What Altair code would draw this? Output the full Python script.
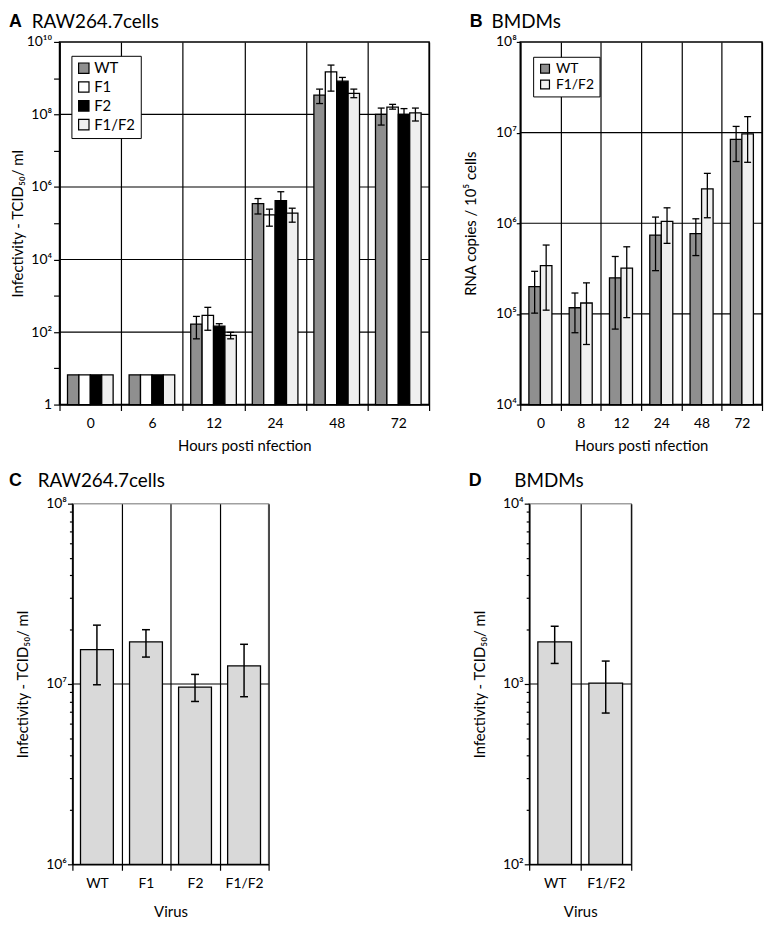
import altair as alt
import pandas as pd

FONT = "Lato"
LETTER_FONT = "Liberation Sans"
SUP = str.maketrans("0123456789", "⁰¹²³⁴⁵⁶⁷⁸⁹")

# ---------------- Panel A : RAW264.7 cells, infectivity time course ----------------
a_hours = ["0", "6", "12", "24", "48", "72"]
a_series = ["WT", "F1", "F2", "F1/F2"]
a_fill = ["#8f8f8f", "#ffffff", "#000000", "#efefef"]
a_wt = [6.6, 6.6, 166, 3.5e5, 3.4e8, 1.0e8]
a_wt_lo = [None, None, 65, 1.8e5, 2.0e8, 5.1e7]
a_wt_hi = [None, None, 270, 4.8e5, 5.0e8, 1.5e8]
a_f1 = [6.6, 6.6, 288, 1.7e5, 1.5e9, 1.6e8]
a_f1_lo = [None, None, 112, 8.3e4, 4.4e8, 1.4e8]
a_f1_hi = [None, None, 480, 2.45e5, 2.3e9, 1.9e8]
a_f2 = [6.6, 6.6, 145, 4.2e5, 8.3e8, 1.0e8]
a_f2_lo = [None, None, 129, 2.4e5, 6.6e8, 7.0e7]
a_f2_hi = [None, None, 170, 7.4e5, 1.05e9, 1.45e8]
a_f1f2 = [6.6, 6.6, 81, 1.9e5, 3.8e8, 1.1e8]
a_f1f2_lo = [None, None, 65, 1.07e5, 2.9e8, 6.6e7]
a_f1f2_hi = [None, None, 98, 2.6e5, 5.0e8, 1.5e8]
a_exponents = list(range(0, 11))
a_grid = [1e2, 1e4, 1e6, 1e8]

# ---------------- Panel B : BMDMs, RNA copies ----------------
b_hours = ["0", "8", "12", "24", "48", "72"]
b_series = ["WT", "F1/F2"]
b_fill = ["#8f8f8f", "#efefef"]
b_wt = [2.0e5, 1.17e5, 2.5e5, 7.4e5, 7.7e5, 8.4e6]
b_wt_lo = [1.02e5, 6.2e4, 6.8e4, 3.0e5, 4.4e5, 4.8e6]
b_wt_hi = [2.95e5, 1.7e5, 4.3e5, 1.17e6, 1.12e6, 1.17e7]
b_f1f2 = [3.4e5, 1.32e5, 3.2e5, 1.05e6, 2.4e6, 9.7e6]
b_f1f2_lo = [1.1e5, 4.6e4, 9.1e4, 6.0e5, 1.15e6, 4.7e6]
b_f1f2_hi = [5.75e5, 2.2e5, 5.5e5, 1.48e6, 3.55e6, 1.5e7]
b_exponents = [4, 5, 6, 7, 8]
b_grid = [1e5, 1e6, 1e7]

# ---------------- Panel C : RAW264.7 cells, by virus ----------------
c_virus = ["WT", "F1", "F2", "F1/F2"]
c_value = [1.55e7, 1.71e7, 9.6e6, 1.26e7]
c_lo = [9.9e6, 1.41e7, 8.0e6, 8.5e6]
c_hi = [2.12e7, 2.0e7, 1.13e7, 1.66e7]
c_exponents = [6, 7, 8]
c_grid = [1e7]

# ---------------- Panel D : BMDMs, by virus ----------------
d_virus = ["WT", "F1/F2"]
d_value = [1710, 1010]
d_lo = [1300, 690]
d_hi = [2090, 1340]
d_exponents = [2, 3, 4]
d_grid = [1e3]


def pow_label(e):
    return "1" if e == 0 else "10" + str(e).translate(SUP)


def label_expr(exps):
    expr = "''"
    for e in exps:
        expr = f"datum.value == {10 ** e} ? '{pow_label(e)}' : " + expr
    return expr


def long_table(cats, series, vals, los, his, base):
    rows = []
    for s, v, lo, hi in zip(series, vals, los, his):
        for c, vv, l, h in zip(cats, v, lo, hi):
            rows.append({"cat": c, "series": s, "value": vv, "lo": l, "hi": h, "base": base})
    return pd.DataFrame(rows)


def title_layers(letter, text, lx, tx, y):
    d = pd.DataFrame({"t": [0]})
    l1 = alt.Chart(d).mark_text(text=letter, font=LETTER_FONT, fontWeight="bold", fontSize=18,
                                align="left", baseline="middle", color="black").encode(
        x=alt.value(lx), y=alt.value(y))
    l2 = alt.Chart(d).mark_text(text=text, font=FONT, fontSize=19, align="left",
                                baseline="middle", color="black").encode(
        x=alt.value(tx), y=alt.value(y))
    return [l1, l2]


def grid_layer(vals, yscale, yaxis):
    return alt.Chart(pd.DataFrame({"g": vals})).mark_rule(color="black", strokeWidth=1.2).encode(
        y=alt.Y("g:Q", scale=yscale, axis=yaxis))


def grouped_panel(df, cats, series, fills, ydom, exps, label_exps, grid, ytitle, pad_outer,
                  legend, ext, tpad, tick, lpad, letter, text, lx, tx, ty, w, h):
    yscale = alt.Scale(type="log", domain=ydom, nice=False)
    yaxis = alt.Axis(title=ytitle, values=[10 ** e for e in exps], labelExpr=label_expr(label_exps),
                     grid=False, tickSize=tick, labelPadding=lpad, minExtent=ext, maxExtent=ext,
                     titlePadding=tpad)
    xscale = alt.Scale(domain=cats, paddingInner=0, paddingOuter=0)
    xaxis = alt.Axis(title="Hours posti nfection", tickBand="extent", grid=True, labelAngle=0,
                     tickSize=6, labelPadding=6, titlePadding=8)
    xoff = alt.XOffset("series:N", scale=alt.Scale(domain=series, paddingOuter=pad_outer))
    X = alt.X("cat:N", scale=xscale, axis=xaxis)
    bars = alt.Chart(df).mark_bar(stroke="black", strokeWidth=1.3, opacity=1).encode(
        x=X, xOffset=xoff,
        y=alt.Y("value:Q", scale=yscale, axis=yaxis), y2="base:Q",
        fill=alt.Fill("series:N", scale=alt.Scale(domain=series, range=fills), legend=legend))
    err = df.dropna(subset=["lo"])
    rule = alt.Chart(err).mark_rule(color="black", strokeWidth=1.3).encode(
        x=X, xOffset=xoff, y=alt.Y("lo:Q", scale=yscale, axis=yaxis), y2="hi:Q")
    cap_lo = alt.Chart(err).mark_tick(color="black", size=7, thickness=1.3, opacity=1).encode(
        x=X, xOffset=xoff, y=alt.Y("lo:Q", scale=yscale, axis=yaxis))
    cap_hi = alt.Chart(err).mark_tick(color="black", size=7, thickness=1.3, opacity=1).encode(
        x=X, xOffset=xoff, y=alt.Y("hi:Q", scale=yscale, axis=yaxis))
    layers = [grid_layer(grid, yscale, yaxis), bars, rule, cap_lo, cap_hi] + \
        title_layers(letter, text, lx, tx, ty)
    return alt.layer(*layers).properties(width=w, height=h)


def virus_panel(cats, vals, los, his, ydom, exps, grid, letter, text, lx, tx, ty, w, h, band):
    lo_e, hi_e = exps[0], exps[-1]
    ticks = []
    for e in range(lo_e, hi_e):
        ticks += [k * 10 ** e for k in range(1, 10)]
    ticks.append(10 ** hi_e)
    major = " || ".join(f"datum.value == {10 ** e}" for e in exps)
    yscale = alt.Scale(type="log", domain=ydom, nice=False)
    yaxis = alt.Axis(title="Infectivity - TCID₅₀/ ml", values=ticks, labelExpr=label_expr(exps),
                     grid=False, tickSize={"condition": {"test": major, "value": 5}, "value": 3},
                     labelPadding=1, minExtent=30, maxExtent=30, titlePadding=12)
    xscale = alt.Scale(domain=cats, paddingInner=0, paddingOuter=0)
    xaxis = alt.Axis(title="Virus", tickBand="extent", grid=True, labelAngle=0,
                     tickSize=6, labelPadding=6, titlePadding=15)
    X = alt.X("cat:N", scale=xscale, axis=xaxis)
    df = pd.DataFrame({"cat": cats, "value": vals, "lo": los, "hi": his, "base": 10 ** lo_e})
    bars = alt.Chart(df).mark_bar(fill="#d9d9d9", stroke="black", strokeWidth=1.3,
                                  width=alt.RelativeBandSize(band)).encode(
        x=X, y=alt.Y("value:Q", scale=yscale, axis=yaxis), y2="base:Q")
    rule = alt.Chart(df).mark_rule(color="black", strokeWidth=1.5).encode(
        x=X, y=alt.Y("lo:Q", scale=yscale, axis=yaxis), y2="hi:Q")
    cap_lo = alt.Chart(df).mark_tick(color="black", size=8, thickness=1.5, opacity=1).encode(
        x=X, y=alt.Y("lo:Q", scale=yscale, axis=yaxis))
    cap_hi = alt.Chart(df).mark_tick(color="black", size=8, thickness=1.5, opacity=1).encode(
        x=X, y=alt.Y("hi:Q", scale=yscale, axis=yaxis))
    layers = [grid_layer(grid, yscale, yaxis), bars, rule, cap_lo, cap_hi] + \
        title_layers(letter, text, lx, tx, ty)
    return alt.layer(*layers).properties(width=w, height=h,
                                          view=alt.ViewBackground(stroke="#a0a0a0"))


def spacer(w, h):
    return alt.Chart(pd.DataFrame({"v": [0]})).mark_point(opacity=0).encode(
        x=alt.X("v:Q", axis=None), y=alt.Y("v:Q", axis=None)
    ).properties(width=w, height=h, view=alt.ViewBackground(stroke="transparent"))


df_a = long_table(a_hours, a_series, [a_wt, a_f1, a_f2, a_f1f2],
                  [a_wt_lo, a_f1_lo, a_f2_lo, a_f1f2_lo],
                  [a_wt_hi, a_f1_hi, a_f2_hi, a_f1f2_hi], 1)
df_b = long_table(b_hours, b_series, [b_wt, b_f1f2], [b_wt_lo, b_f1f2_lo],
                  [b_wt_hi, b_f1f2_hi], 1e4)

leg_a = alt.Legend(title=None, orient="none", legendX=12, legendY=14, strokeColor="black",
                   fillColor="white", padding=5, symbolType="square", symbolSize=110,
                   symbolStrokeColor="black", symbolStrokeWidth=1.2, symbolOpacity=1,
                   labelFontSize=15, labelFont=FONT, rowPadding=2, labelOffset=3)
leg_b = alt.Legend(title=None, orient="none", legendX=13, legendY=15, strokeColor="black",
                   fillColor="white", padding=5, symbolType="square", symbolSize=80,
                   symbolStrokeColor="black", symbolStrokeWidth=1.2, symbolOpacity=1,
                   labelFontSize=14, labelFont=FONT, rowPadding=2, labelOffset=4)

panel_a = grouped_panel(df_a, a_hours, a_series, a_fill, [1, 1e10], a_exponents,
                        [e for e in a_exponents if e % 2 == 0], a_grid,
                        "Infectivity - TCID₅₀/ ml", 0.7, leg_a, 33, 1, 6, 2,
                        "A", "RAW264.7cells", -51, -28, -20, 373, 366)
panel_b = grouped_panel(df_b, b_hours, b_series, b_fill, [1e4, 1e8], b_exponents,
                        b_exponents, b_grid, "RNA copies / 10⁵ cells", 0.75, leg_b, 30, 12, 4, 0,
                        "B", "BMDMs", -51, -29, -20, 244, 366)
panel_c = virus_panel(c_virus, c_value, c_lo, c_hi, [1e6, 1e8], c_exponents, c_grid,
                      "C", "RAW264.7cells", -64, -35, -23, 198, 364, 0.67)
panel_d = virus_panel(d_virus, d_value, d_lo, d_hi, [1e2, 1e4], d_exponents, d_grid,
                      "D", "BMDMs", -61, -15, -23, 103, 364, 0.66)

row1 = alt.hconcat(panel_a, panel_b, spacing=92, bounds="flush").resolve_scale(
    fill="independent", xOffset="independent")
row2 = alt.hconcat(spacer(13, 364), panel_c, spacer(263, 364), panel_d, spacing=0,
                   bounds="flush")

chart = alt.vconcat(row1, row2, spacing=17).resolve_scale(
    fill="independent", xOffset="independent"
).properties(padding=0).configure_view(
    stroke="black", strokeWidth=1.5
).configure_axis(
    domainColor="black", domainWidth=1.5, tickColor="black", tickWidth=1.2,
    gridColor="black", gridWidth=1.2, gridOpacity=1, labelColor="black", titleColor="black",
    labelFont=FONT, titleFont=FONT, labelFontSize=14, titleFontSize=15,
    titleFontWeight="normal"
).configure_legend(labelColor="black")

chart.save("out.html", embed_options={"renderer": "svg", "actions": False})
